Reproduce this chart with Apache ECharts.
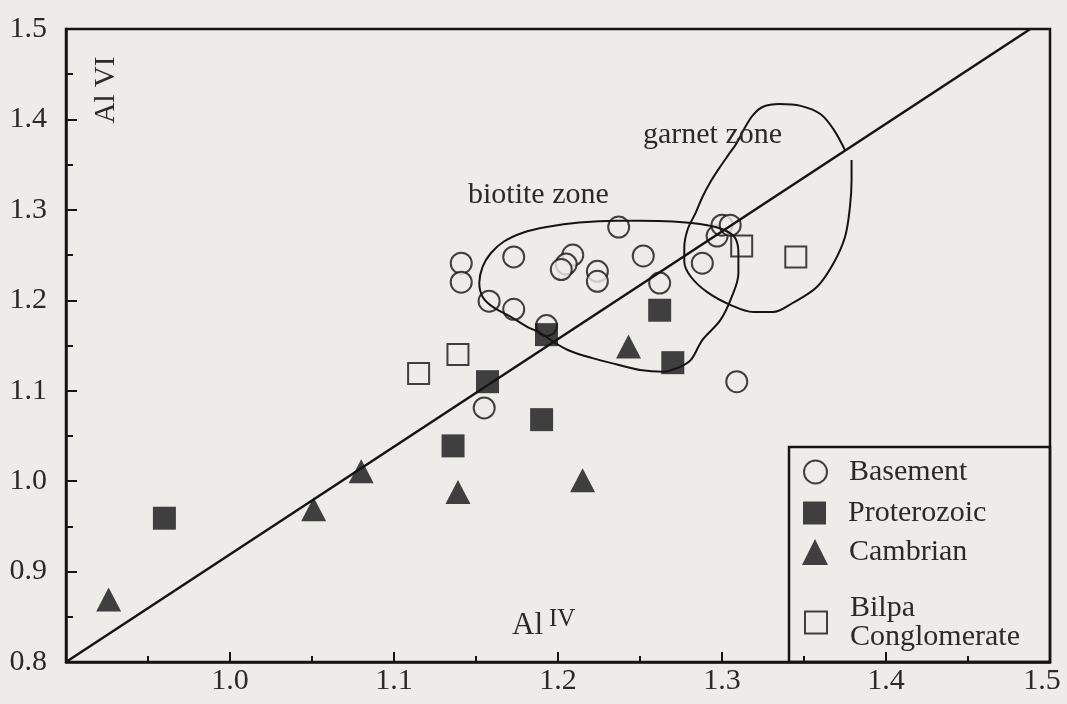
<!DOCTYPE html>
<html>
<head>
<meta charset="utf-8">
<script src="https://cdn.jsdelivr.net/npm/echarts@6/dist/echarts.min.js"></script>
<style>
html,body{margin:0;padding:0;background:#eeece9;}
#c{width:1067px;height:704px;}
</style>
</head>
<body>
<div id="c"></div>
<script>
// ---- data ----
const xTickLabels = ['1.0', '1.1', '1.2', '1.3', '1.4', '1.5'];
const yTickLabels = ['0.8', '0.9', '1.0', '1.1', '1.2', '1.3', '1.4', '1.5'];

const basement = [
  [1.141, 1.241], [1.141, 1.220], [1.158, 1.199], [1.173, 1.248], [1.173, 1.190],
  [1.193, 1.172], [1.209, 1.250], [1.205, 1.240], [1.202, 1.234], [1.224, 1.232],
  [1.224, 1.221], [1.237, 1.281], [1.252, 1.249], [1.262, 1.219], [1.288, 1.241],
  [1.297, 1.271], [1.300, 1.283], [1.305, 1.283], [1.309, 1.110], [1.155, 1.081]
];
const proterozoic = [
  [0.960, 0.959], [1.136, 1.039], [1.157, 1.110], [1.190, 1.068], [1.193, 1.162],
  [1.262, 1.189], [1.270, 1.131]
];
const cambrian = [
  [0.926, 0.869], [1.051, 0.969], [1.080, 1.011], [1.139, 0.988], [1.215, 1.001],
  [1.243, 1.149]
];
const bilpa = [
  [1.115, 1.119], [1.139, 1.140], [1.312, 1.260], [1.345, 1.248]
];
const oneToOneLine = [[0.9, 0.8], [1.488, 1.5]];
const biotiteZone = [
  [1.194, 1.158], [1.206, 1.145], [1.221, 1.136], [1.236, 1.129], [1.250, 1.123],
  [1.264, 1.121], [1.274, 1.126], [1.281, 1.134], [1.288, 1.156], [1.299, 1.178],
  [1.306, 1.204], [1.310, 1.230], [1.310, 1.252], [1.308, 1.269], [1.301, 1.278],
  [1.291, 1.283], [1.270, 1.287], [1.250, 1.288], [1.236, 1.288], [1.213, 1.286],
  [1.193, 1.281], [1.179, 1.275], [1.167, 1.265], [1.159, 1.252], [1.154, 1.237],
  [1.152, 1.219], [1.154, 1.204], [1.160, 1.193], [1.171, 1.182], [1.181, 1.171],
  [1.189, 1.164], [1.194, 1.158]
];
const garnetZone = [
  [1.375, 1.366], [1.368, 1.389], [1.360, 1.406], [1.348, 1.415], [1.335, 1.417],
  [1.325, 1.414], [1.319, 1.405], [1.314, 1.391], [1.309, 1.374], [1.304, 1.361],
  [1.299, 1.348], [1.293, 1.331], [1.288, 1.314], [1.284, 1.297], [1.279, 1.278],
  [1.277, 1.258], [1.277, 1.243], [1.281, 1.226], [1.291, 1.209], [1.305, 1.195],
  [1.319, 1.187], [1.331, 1.187], [1.343, 1.197], [1.358, 1.215], [1.368, 1.241],
  [1.375, 1.270], [1.378, 1.303], [1.379, 1.333], [1.379, 1.355]
];

// ---- styling ----
const BG = '#eeece9';
const INK = '#141414';
const TXT = '#2a2a2a';
const FONT = '"Liberation Serif", "Times New Roman", serif';
const FS = 30;

const chart = echarts.init(document.getElementById('c'), null, {renderer: 'canvas'});

function legendFor(name, top, iw, ih, left, padLeft) {
  return {
    data: [name],
    orient: 'vertical',
    left: left,
    top: top,
    padding: 0,
    itemWidth: iw,
    itemHeight: ih,
    selectedMode: false,
    formatter: n => n === 'Bilpa Conglomerate' ? 'Bilpa\nConglomerate' : n,
    textStyle: {fontFamily: FONT, fontSize: FS, color: TXT, lineHeight: 29, padding: [0, 0, 0, padLeft]}
  };
}

const option = {
  backgroundColor: BG,
  animation: false,
  grid: {left: 66, right: 17, top: 29, bottom: 42, show: true, borderColor: INK, borderWidth: 2.5, backgroundColor: 'transparent'},
  xAxis: {
    type: 'value', min: 0.9, max: 1.5, interval: 0.1,
    axisLine: {lineStyle: {color: INK, width: 2.5}},
    axisTick: {inside: true, length: 10, lineStyle: {color: INK, width: 2}},
    minorTick: {show: true, splitNumber: 2, length: 6, lineStyle: {color: INK, width: 2}},
    splitLine: {show: false},
    axisLabel: {
      showMinLabel: false, margin: 4, fontFamily: FONT, fontSize: FS, color: TXT,
      formatter: v => {
        const i = Math.round((v - 1.0) * 10);
        const s = xTickLabels[i] || '';
        return i === xTickLabels.length - 1 ? '{last|' + s + '}' : s;
      },
      rich: {last: {fontFamily: FONT, fontSize: FS, color: TXT, padding: [0, 16, 0, 0]}}
    }
  },
  yAxis: {
    type: 'value', min: 0.8, max: 1.5, interval: 0.1,
    axisLine: {lineStyle: {color: INK, width: 2.5}},
    axisTick: {inside: true, length: 11, lineStyle: {color: INK, width: 2}},
    minorTick: {show: true, splitNumber: 2, length: 7, lineStyle: {color: INK, width: 2}},
    splitLine: {show: false},
    axisLabel: {
      margin: 19, fontFamily: FONT, fontSize: FS, color: TXT, padding: [0, 0, 16, 0],
      formatter: v => yTickLabels[Math.round((v - 0.8) * 10)] || ''
    }
  },
  legend: [
    legendFor('Basement', 457, 23, 23, 803, 17),
    legendFor('Proterozoic', 498, 23, 23, 803, 17),
    legendFor('Cambrian', 537, 26, 26, 802, 16),
    legendFor('Bilpa Conglomerate', 593, 22, 22, 804, 18)
  ],
  series: [
    {name: 'Basement', type: 'scatter', data: basement, symbol: 'circle', symbolSize: 21, z: 2,
      itemStyle: {color: BG, borderColor: INK, borderWidth: 2}, emphasis: {disabled: true}},
    {name: 'Bilpa Conglomerate', type: 'scatter', data: bilpa, symbol: 'rect', symbolSize: 21, z: 3,
      itemStyle: {color: BG, borderColor: INK, borderWidth: 2}, emphasis: {disabled: true}},
    {name: 'Proterozoic', type: 'scatter', data: proterozoic, symbol: 'rect', symbolSize: 23, z: 3,
      itemStyle: {color: INK}, emphasis: {disabled: true}},
    {name: 'Cambrian', type: 'scatter', data: cambrian, symbol: 'triangle', symbolSize: [25, 24], z: 3,
      itemStyle: {color: INK}, emphasis: {disabled: true}},
    {name: 'line', type: 'line', data: oneToOneLine, symbol: 'none', z: 4, silent: true,
      lineStyle: {color: INK, width: 2.5}},
    {name: 'biotite', type: 'line', data: biotiteZone, symbol: 'none', smooth: 0.35, z: 4, silent: true,
      lineStyle: {color: INK, width: 2}},
    {name: 'garnet', type: 'line', data: garnetZone, symbol: 'none', smooth: 0.35, z: 4, silent: true,
      lineStyle: {color: INK, width: 2}}
  ],
  graphic: [
    {type: 'rect', shape: {x: 789, y: 447, width: 261, height: 215}, z: 10,
      style: {fill: 'transparent', stroke: INK, lineWidth: 2.5}},
    {type: 'text', x: 468, y: 195, z: 10,
      style: {text: 'biotite zone', fontFamily: FONT, fontSize: FS, fill: TXT, align: 'left', verticalAlign: 'middle'}},
    {type: 'text', x: 643, y: 135, z: 10,
      style: {text: 'garnet zone', fontFamily: FONT, fontSize: FS, fill: TXT, align: 'left', verticalAlign: 'middle'}},
    {type: 'text', x: 512, y: 626, z: 10,
      style: {text: 'Al{sup|IV}', fontFamily: FONT, fontSize: 31, fill: TXT, align: 'left', verticalAlign: 'middle',
        rich: {sup: {fontFamily: FONT, fontSize: 25, fill: TXT, padding: [0, 0, 14, 6]}}}},
    {type: 'text', x: 106, y: 90, rotation: Math.PI / 2, z: 10,
      style: {text: 'Al VI', fontFamily: FONT, fontSize: 29, fill: TXT, align: 'center', verticalAlign: 'middle'}}
  ]
};
chart.setOption(option);
</script>
</body>
</html>
